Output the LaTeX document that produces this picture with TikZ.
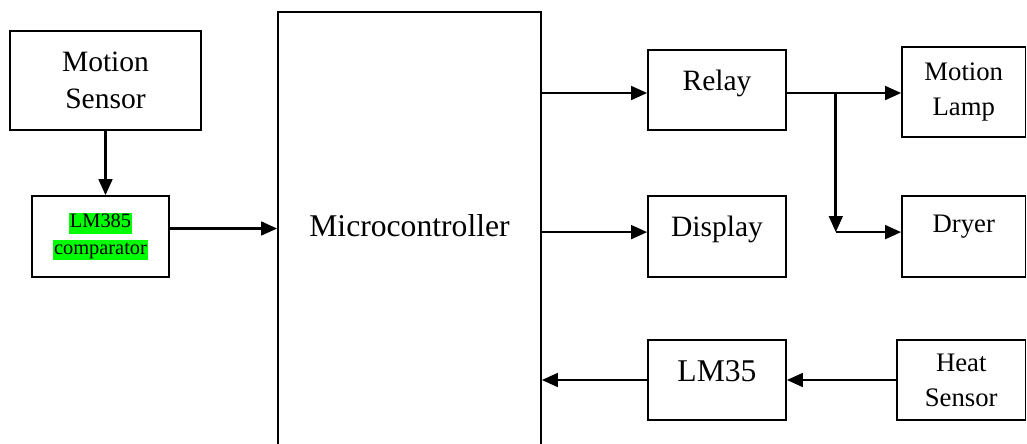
\documentclass[tikz,border=0pt]{standalone}
\usepackage{fontspec}
\setmainfont{Liberation Serif}
\usetikzlibrary{arrows.meta,positioning}
\definecolor{hlgreen}{rgb}{0.0,1.0,0.0}
\newcommand{\hlg}[1]{{\setlength{\fboxsep}{1pt}\colorbox{hlgreen}{\vphantom{Lp}#1}}}

\begin{document}
\begin{tikzpicture}[x=0.025cm,y=-0.025cm,
   blk/.style={draw,line width=1.1pt,align=center,inner sep=0pt},
   lift/.style={text depth=#1},
   big/.style={font=\fontsize{21}{26}\selectfont},
   mid/.style={font=\fontsize{19}{25}\selectfont},
   arr/.style={line width=1.9pt,-{Triangle[length=0.4cm,width=0.34cm]}}]
  \useasboundingbox (0,0) rectangle (1027,443);
  % left column
  \node[blk,big,minimum width=4.775cm,minimum height=2.475cm] (msens) at (105.5,80.5) {Motion\\Sensor};
  \node[blk,minimum width=3.425cm,minimum height=2.025cm,
        font=\fontsize{14.5}{19}\selectfont] (comp) at (100.5,236.5) {\hlg{LM385}\\\hlg{comparator}};
  % controller, runs off the bottom edge
  \node[blk,big,minimum width=6.575cm,minimum height=11.45cm,lift=0.75cm,
        font=\fontsize{22.5}{27}\selectfont] (mc) at (409.5,241) {Microcontroller};
  % middle column
  \node[blk,big,minimum width=3.45cm,minimum height=2.0cm,lift=0.5cm] (relay) at (717,90) {Relay};
  \node[blk,big,minimum width=3.45cm,minimum height=2.025cm,lift=0.52cm] (disp) at (717,236.5) {Display};
  \node[blk,big,minimum width=3.45cm,minimum height=2.0cm,lift=0.45cm,
        font=\fontsize{22.5}{27}\selectfont] (lm35) at (717,380) {LM35};
  % right column
  \node[blk,mid,minimum width=3.0875cm,minimum height=2.25cm] (lamp) at (963.75,92) {Motion\\Lamp};
  \node[blk,mid,minimum width=3.0875cm,minimum height=2.025cm,lift=0.62cm] (dryer) at (963.75,236.5) {Dryer};
  \node[blk,mid,minimum width=3.2125cm,minimum height=2.0cm] (heat) at (961.25,380) {Heat\\Sensor};
  \coordinate[right=1.225cm of relay.east,yshift=-0.075cm] (br);
  \coordinate (dy) at ([yshift=0.11cm]dryer.west);

  \draw[arr] (msens.south) -- (msens.south |- comp.north);
  \draw[arr] ([yshift=0.2cm]comp.east) -- ([yshift=0.2cm]comp.east -| mc.west);
  \draw[arr] (mc.east |- br) -- (br -| relay.west);
  \draw[arr] (mc.east |- dy) -- (dy -| disp.west);
  \draw[arr] (lm35.west) -- (lm35.west -| mc.east);
  \draw[arr] (heat.west) -- (lm35.east);
  \draw[arr] (br -| relay.east) -- (br -| lamp.west);
  \draw[arr] (br) -- (br |- dy);
  \draw[arr] (br |- dy) -- (dy);
\end{tikzpicture}
\end{document}
